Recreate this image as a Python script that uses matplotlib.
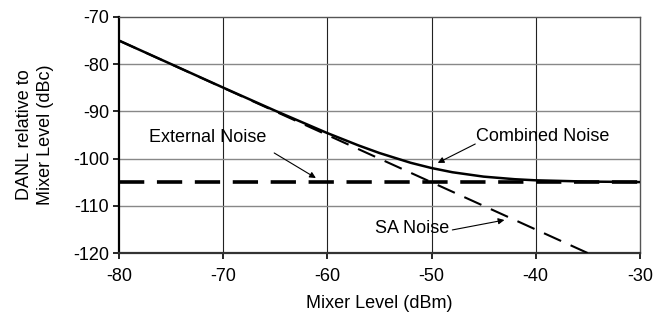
import matplotlib
matplotlib.use('Agg')
import matplotlib.pyplot as plt

plt.rcParams['font.family'] = ['Liberation Sans Narrow', 'Liberation Sans', 'DejaVu Sans']
plt.rcParams['axes.unicode_minus'] = False

# mixer level (dBm) and noise readings (dBc)
mixer_level = [-80, -70, -65, -60, -57, -55, -52, -50, -48, -45, -42, -40, -35, -30]
combined_noise = [-75.0, -84.96, -89.86, -94.59, -97.21, -98.81, -100.88, -101.99,
                  -102.88, -103.81, -104.36, -104.59, -104.86, -104.96]
sa_level = [-80, -35]
sa_noise = [-75, -120]
ext_level = [-80, -30]
ext_noise = [-105, -105]

xticks = [-80, -70, -60, -50, -40, -30]
yticks = [-70, -80, -90, -100, -110, -120]

fig = plt.figure(figsize=(6.61, 3.14), dpi=100)
ax = fig.add_axes([0.180, 0.194, 0.788, 0.752])

# grid: vertical lines dark, horizontal lines gray
for x in xticks[1:-1]:
    ax.axvline(x, color='#222222', lw=0.8, zorder=1)
for y in yticks[1:-1]:
    ax.axhline(y, color='#888888', lw=1.0, zorder=1)

ax.plot(ext_level, ext_noise, color='black', lw=2.6, dashes=(7, 3.5), zorder=3)
ax.plot(sa_level, sa_noise, color='black', lw=1.5, dashes=(9, 5), zorder=3)
ax.plot(mixer_level, combined_noise, color='black', lw=1.8, zorder=4)

ax.set_xlim(-80, -30)
ax.set_ylim(-120, -70)
ax.set_xticks(xticks)
ax.set_yticks(yticks)
ax.tick_params(labelsize=13, length=4, width=1.2, color='black', pad=3)
ax.tick_params(axis='x', pad=7)
ax.spines['left'].set_linewidth(1.6)
ax.spines['bottom'].set_linewidth(1.6)
ax.spines['bottom'].set_color('#333333')
ax.spines['top'].set_color('#555555')
ax.spines['right'].set_color('#555555')
ax.spines['top'].set_linewidth(1.0)
ax.spines['right'].set_linewidth(1.0)

ax.set_xlabel('Mixer Level (dBm)', fontsize=13, labelpad=7)
ax.set_ylabel('DANL relative to\nMixer Level (dBc)', fontsize=13, labelpad=14, linespacing=1.25)

arrow = dict(arrowstyle='-|>', color='black', lw=0.8, mutation_scale=9, shrinkA=0, shrinkB=0)
ax.annotate('', xy=(-61.1, -104.1), xytext=(-65.1, -98.8), arrowprops=arrow, zorder=5)
ax.text(-71.5, -95.6, 'External Noise', fontsize=13, ha='center', va='center', zorder=5)

ax.annotate('', xy=(-49.4, -100.9), xytext=(-45.8, -96.9), arrowprops=arrow, zorder=5)
ax.text(-39.3, -95.4, 'Combined Noise', fontsize=13, ha='center', va='center', zorder=5)

ax.annotate('', xy=(-43.0, -113.0), xytext=(-48.0, -115.1), arrowprops=arrow, zorder=5)
ax.text(-51.9, -114.7, 'SA Noise', fontsize=13, ha='center', va='center', zorder=5)

fig.savefig('out.png', dpi=100)
